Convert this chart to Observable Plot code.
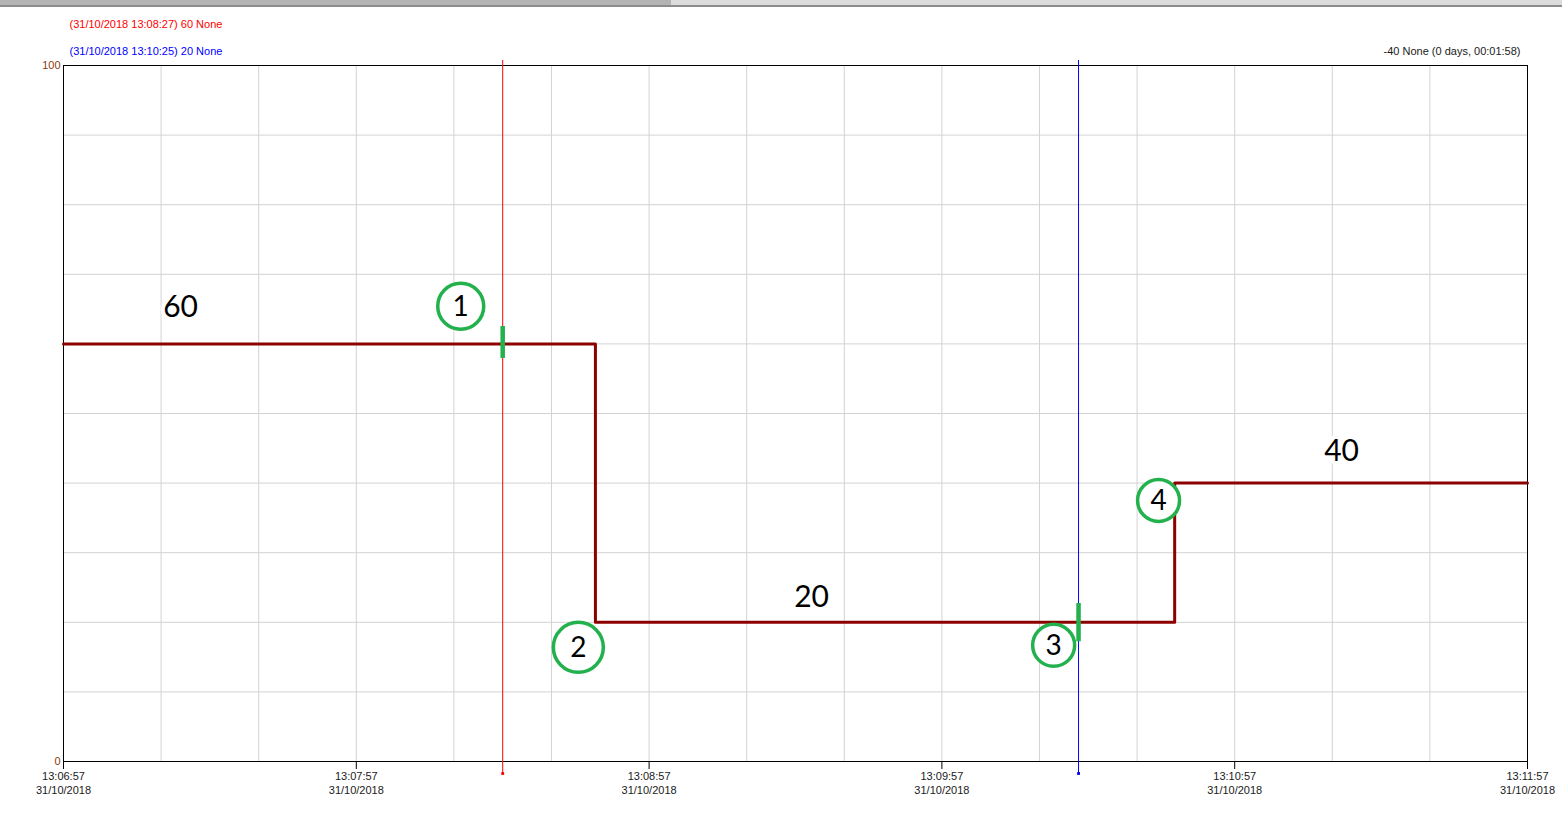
<!DOCTYPE html>
<html>
<head>
<meta charset="utf-8">
<script src="https://cdn.jsdelivr.net/npm/d3@7"></script>
<script src="https://cdn.jsdelivr.net/npm/@observablehq/plot@0.6"></script>
<style>
  html, body { margin: 0; padding: 0; background: white; overflow: hidden; }
  #strip1 { position: absolute; left: 0; top: 0; width: 671px; height: 5px; background: #b4b4b4; }
  #strip2 { position: absolute; left: 671px; top: 0; width: 891px; height: 5px; background: #dcdcdc; }
  #strip3 { position: absolute; left: 0; top: 5px; width: 1562px; height: 2px; background: #8c8c8c; }
  #chart { position: absolute; left: 0; top: 0; }
</style>
</head>
<body>
<div id="chart"></div>
<div id="strip1"></div><div id="strip2"></div><div id="strip3"></div>
<script>
// ---- data ----
const domainTimes = ["2018-10-31T13:06:57Z", "2018-10-31T13:11:57Z"];
const stepTimes = ["2018-10-31T13:06:57Z", "2018-10-31T13:08:46Z", "2018-10-31T13:10:44.7Z", "2018-10-31T13:11:57Z"];
const stepValues = [60, 20, 40, 40];
const cursorTimes = ["2018-10-31T13:08:27Z", "2018-10-31T13:10:25Z"];
const cursorValues = [60, 20];
const cursorColors = ["red", "blue"];
const markerLow = [57.9, 17.2];
const markerHigh = [62.5, 22.7];
const valueLabels = ["60", "20", "40"];
const valueLabelTimes = ["2018-10-31T13:07:21Z", "2018-10-31T13:09:30.3Z", "2018-10-31T13:11:18.9Z"];
const valueLabelY = [65.4, 23.7, 44.7];
const circleLabels = ["1", "2", "3", "4"];
const circleTimes = ["2018-10-31T13:08:18.4Z", "2018-10-31T13:08:42.5Z", "2018-10-31T13:10:19.9Z", "2018-10-31T13:10:41.4Z"];
const circleY = [65.4, 16.4, 16.7, 37.5];
const circleR = [23, 25, 21, 21];
const gridStepSeconds = 20;
const labelStepSeconds = 60;
const yGridValues = d3.range(0, 101, 10);
const yTickValues = [0, 100];
const unitName = "None";

// ---- build ----
const P = s => new Date(s);
const domain = domainTimes.map(P);
const span = (domain[1] - domain[0]) / 1000;
const steps = stepTimes.map((t, i) => ({t: P(t), v: stepValues[i]}));
const cursors = cursorTimes.map((t, i) => ({t: P(t), v: cursorValues[i], c: cursorColors[i], lo: markerLow[i], hi: markerHigh[i]}));
const vlabels = valueLabels.map((s, i) => ({s, t: P(valueLabelTimes[i]), y: valueLabelY[i]}));
const circles = circleLabels.map((s, i) => ({s, t: P(circleTimes[i]), y: circleY[i], r: circleR[i]}));
const gridTimes = d3.range(0, span + 1, gridStepSeconds).map(k => new Date(+domain[0] + k * 1000));
const labelTimes = d3.range(0, span + 1, labelStepSeconds).map(k => new Date(+domain[0] + k * 1000));

const fTime = d3.utcFormat("%H:%M:%S");
const fDate = d3.utcFormat("%d/%m/%Y");
const header = cursors.map(c => ({s: `(${fDate(c.t)} ${fTime(c.t)}) ${c.v} ${unitName}`, c: c.c}));
const dv = cursors[1].v - cursors[0].v;
const ds = Math.round((cursors[1].t - cursors[0].t) / 1000);
const pad = n => String(n).padStart(2, "0");
const deltaText = `${dv} ${unitName} (${Math.floor(ds / 86400)} days, ${pad(Math.floor(ds / 3600) % 24)}:${pad(Math.floor(ds / 60) % 60)}:${pad(ds % 60)})`;

const green = "#22b14c";
const chart = Plot.plot({
  width: 1562,
  height: 816,
  marginLeft: 63,
  marginRight: 35,
  marginTop: 65,
  marginBottom: 55,
  style: {fontFamily: "'Liberation Sans', Arial, sans-serif", fontSize: "11px", background: "white", overflow: "visible"},
  x: {type: "utc", domain, label: null},
  y: {domain: [0, 100], label: null},
  r: {type: "identity"},
  marks: [
    Plot.gridX(gridTimes, {stroke: "#d3d3d3", strokeOpacity: 1}),
    Plot.gridY(yGridValues, {stroke: "#d3d3d3", strokeOpacity: 1}),
    Plot.frame({stroke: "black"}),
    Plot.axisX(labelTimes, {tickSize: 8, tickPadding: 1, tickFormat: d => `${fTime(d)}\n${fDate(d)}`, lineHeight: 1.25, fill: "#1a1a1a"}),
    Plot.axisY(yTickValues, {tickSize: 0, tickPadding: 3, fill: "#8b3a0f"}),
    Plot.ruleX(cursors, {x: "t", stroke: "c", insetTop: -5, insetBottom: -12, strokeWidth: 1}),
    Plot.dot(cursors, {x: "t", frameAnchor: "bottom", dy: 12, r: 1.6, fill: "c", symbol: "square"}),
    Plot.line(steps, {x: "t", y: "v", curve: "step-after", stroke: "#8b0000", strokeWidth: 3}),
    Plot.ruleX(cursors, {x: "t", y1: "lo", y2: "hi", stroke: green, strokeWidth: 4.5}),
    Plot.dot(circles, {x: "t", y: "y", r: "r", fill: "white", stroke: green, strokeWidth: 3.5}),
    Plot.text(circles, {x: "t", y: "y", text: "s", fontFamily: "Lato, sans-serif", fontSize: 28, fill: "black", dy: 1}),
    Plot.text(vlabels, {x: "t", y: "y", text: "s", fontFamily: "Lato, sans-serif", fontSize: 30, fill: "black", stroke: "white", strokeWidth: 8, dy: 1}),
    Plot.text(header.slice(0, 1), {text: "s", fill: "c", frameAnchor: "top-left", lineAnchor: "middle", textAnchor: "start", dx: 6, dy: -41}),
    Plot.text(header.slice(1, 2), {text: "s", fill: "c", frameAnchor: "top-left", lineAnchor: "middle", textAnchor: "start", dx: 6, dy: -14}),
    Plot.text([deltaText], {text: d => d, fill: "#1a1a1a", frameAnchor: "top-right", lineAnchor: "middle", textAnchor: "end", dx: -7, dy: -14})
  ]
});
document.getElementById("chart").appendChild(chart);
</script>
</body>
</html>
